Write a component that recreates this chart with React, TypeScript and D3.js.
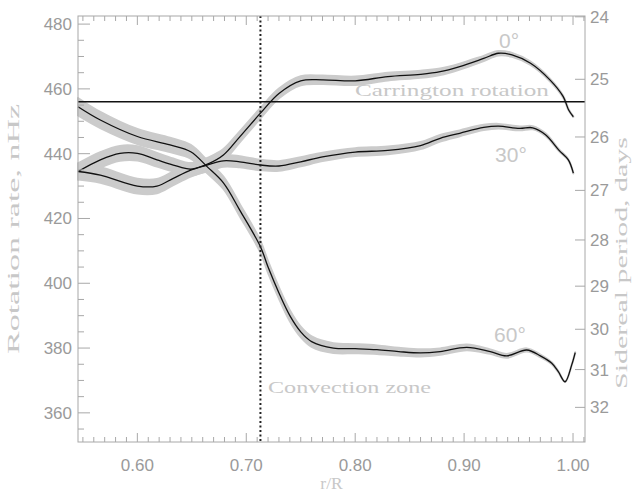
import React from 'react';
import * as d3 from 'd3';

// solar internal rotation vs fractional radius, three latitudes
const r0 = [0.5455, 0.566, 0.60, 0.618, 0.633, 0.649, 0.666, 0.679, 0.694, 0.713, 0.730, 0.75, 0.77, 0.80, 0.83, 0.86, 0.878, 0.896, 0.918, 0.9315, 0.944, 0.961, 0.979, 0.991, 0.996, 1.0003];
const omega0 = [434.5, 433.4, 430.0, 430.0, 432.4, 434.9, 437.0, 439.6, 445.2, 452.5, 458.6, 462.5, 462.8, 462.5, 463.8, 464.5, 465.3, 466.9, 469.4, 471.0, 470.5, 467.9, 462.7, 457.6, 453.5, 451.4];
const err0 = [2.5, 2.4, 2.3, 2.2, 2.1, 2.0, 1.9, 1.8, 1.7, 1.6, 1.5, 1.4, 1.3, 1.3, 1.2, 1.1, 1.0, 0.9, 0.8, 0.7, 0.6, 0.5, 0.4, 0.3, 0.2, 0.1];

const r30 = [0.5455, 0.566, 0.584, 0.60, 0.618, 0.633, 0.649, 0.664, 0.679, 0.694, 0.713, 0.730, 0.75, 0.77, 0.80, 0.83, 0.86, 0.878, 0.896, 0.918, 0.9315, 0.951, 0.963, 0.975, 0.987, 0.9957, 1.0003];
const omega30 = [434.5, 438.1, 440.1, 440.1, 438.1, 436.5, 435.2, 436.5, 437.8, 437.5, 436.5, 436.2, 437.5, 439.0, 440.5, 441.0, 442.5, 444.75, 446.3, 448.1, 448.5, 447.8, 448.0, 445.8, 441.1, 438.1, 434.0];
const err30 = [2.5, 2.4, 2.3, 2.2, 2.1, 2.0, 1.9, 1.9, 1.8, 1.7, 1.6, 1.5, 1.4, 1.3, 1.2, 1.2, 1.1, 1.0, 0.9, 0.8, 0.7, 0.6, 0.5, 0.4, 0.3, 0.2, 0.1];

const r60 = [0.5455, 0.566, 0.60, 0.63, 0.649, 0.664, 0.679, 0.694, 0.713, 0.72, 0.73, 0.74, 0.75, 0.76, 0.78, 0.80, 0.82, 0.84, 0.86, 0.878, 0.9025, 0.924, 0.939, 0.9575, 0.97, 0.9805, 0.9865, 0.9927, 0.9988, 1.002];
const omega60 = [454.5, 450.4, 445.3, 442.7, 440.6, 436.0, 431.0, 422.6, 411.3, 405.0, 397.0, 390.0, 385.0, 382.0, 380.0, 379.8, 379.5, 378.9, 378.5, 378.9, 380.2, 378.9, 377.6, 379.4, 377.6, 375.3, 372.7, 369.6, 374.8, 378.6];
const err60 = [2.7, 2.5, 2.3, 2.2, 2.1, 2.0, 1.9, 1.9, 1.8, 1.8, 1.7, 1.7, 1.6, 1.6, 1.5, 1.4, 1.3, 1.2, 1.1, 1.0, 0.9, 0.7, 0.6, 0.5, 0.4, 0.3, 0.2, 0.1, 0.1, 0.1];

const latLabels = ['0°', '30°', '60°'];
const nhzTicks = [360, 380, 400, 420, 440, 460, 480];
const dayTicks = [24, 25, 26, 27, 28, 29, 30, 31, 32];
const rTicks = [0.6, 0.7, 0.8, 0.9, 1.0];
const carrington = 456.0; // nHz
const convectionBase = 0.713;

const W = 635;
const H = 493;
const left = 78, right = 585, top = 16, bottom = 442;

const axisGray = '#a8a8a8';
const numGray = '#9a9a9a';
const titleGray = '#c8c8c8';
const bandGray = '#cbcbcb';

const App = () => {
  const x = d3.scaleLinear().domain([0.5455, 1.011]).range([left, right]);
  const y = d3.scaleLinear().domain([351, 482.5]).range([bottom, top]);
  const dayToY = (p: number) => y(1e9 / (p * 86400));

  const series = [
    { r: r0, v: omega0, e: err0 },
    { r: r30, v: omega30, e: err30 },
    { r: r60, v: omega60, e: err60 },
  ];

  const line = d3
    .line<[number, number]>()
    .x((d) => x(d[0]))
    .y((d) => y(d[1]))
    .curve(d3.curveCatmullRom.alpha(0.5));
  const band = d3
    .area<[number, number, number]>()
    .x((d) => x(d[0]))
    .y0((d) => y(d[1] - d[2]))
    .y1((d) => y(d[1] + d[2]))
    .curve(d3.curveCatmullRom.alpha(0.5));

  // minor ticks
  const xMinor = d3.range(55, 102).map((i) => i / 100).filter((v) => x(v) >= left && x(v) <= right);
  const yMinor = d3.range(355, 482, 5).filter((v) => v % 20 !== 0);

  const numFont = { fontFamily: 'Liberation Sans, sans-serif', fontSize: 17, fill: numGray };
  const titleFont = { fontFamily: 'Liberation Serif, serif', fontSize: 17.5, fill: titleGray };

  return (
    <svg width={W} height={H} style={{ position: 'absolute', left: 0, top: 0, background: '#fff' }}>
      <rect width={W} height={H} fill="#fff" />

      {/* error bands */}
      {series.map((s, i) => (
        <path
          key={'b' + i}
          d={band(s.r.map((r, j) => [r, s.v[j], s.e[j]] as [number, number, number])) || ''}
          fill={bandGray}
          stroke={bandGray}
          strokeWidth={2}
          strokeLinejoin="round"
        />
      ))}

      {/* Carrington rotation */}
      <line x1={left} x2={right} y1={y(carrington)} y2={y(carrington)} stroke="#111" strokeWidth={1.5} />

      {/* curves */}
      {series.map((s, i) => (
        <path
          key={'l' + i}
          d={line(s.r.map((r, j) => [r, s.v[j]] as [number, number])) || ''}
          fill="none"
          stroke="#111"
          strokeWidth={1.3}
        />
      ))}

      {/* base of convection zone */}
      <line
        x1={x(convectionBase)}
        x2={x(convectionBase)}
        y1={top}
        y2={bottom}
        stroke="#222"
        strokeWidth={2}
        strokeDasharray="2,2.5"
      />

      {/* frame */}
      <rect x={left} y={top} width={right - left} height={bottom - top} fill="none" stroke={axisGray} strokeWidth={1} />

      {/* x ticks bottom and top */}
      {xMinor.map((v) => {
        const major = rTicks.some((t) => Math.abs(t - v) < 1e-6);
        const len = major ? 9 : 5;
        return (
          <g key={'xt' + v}>
            <line x1={x(v)} x2={x(v)} y1={bottom} y2={bottom - len} stroke={axisGray} />
            <line x1={x(v)} x2={x(v)} y1={top} y2={top + len} stroke={axisGray} />
          </g>
        );
      })}
      {rTicks.map((v) => (
        <text key={'xl' + v} x={x(v)} y={471} textAnchor="middle" {...numFont}>
          {v.toFixed(2)}
        </text>
      ))}
      <text x={(left + right) / 2} y={489} textAnchor="middle" {...titleFont}>
        r/R
      </text>

      {/* left axis (nHz) */}
      {nhzTicks.map((v) => (
        <g key={'yl' + v}>
          <line x1={left} x2={left + 12} y1={y(v)} y2={y(v)} stroke={axisGray} />
          <text x={72} y={y(v) + 6} textAnchor="end" {...numFont}>
            {v}
          </text>
        </g>
      ))}
      {yMinor.map((v) => (
        <line key={'ym' + v} x1={left} x2={left + 6} y1={y(v)} y2={y(v)} stroke={axisGray} />
      ))}
      <text
        transform={`translate(19, ${(top + bottom) / 2}) rotate(-90)`}
        textAnchor="middle"
        textLength={250}
        lengthAdjust="spacingAndGlyphs"
        {...titleFont}
      >
        Rotation rate, nHz
      </text>

      {/* right axis (sidereal period) */}
      {dayTicks.map((p) => (
        <g key={'yr' + p}>
          <line x1={right - 10} x2={right} y1={dayToY(p)} y2={dayToY(p)} stroke={axisGray} />
          <text x={590} y={dayToY(p) + 6} textAnchor="start" {...numFont}>
            {p}
          </text>
        </g>
      ))}
      <text
        transform={`translate(627, 263) rotate(-90)`}
        textAnchor="middle"
        textLength={252}
        lengthAdjust="spacingAndGlyphs"
        {...titleFont}
      >
        Sidereal period, days
      </text>

      {/* annotations */}
      <text x={355} y={96} textLength={194} lengthAdjust="spacingAndGlyphs" {...titleFont}>
        Carrington rotation
      </text>
      <text x={268} y={393} textLength={163} lengthAdjust="spacingAndGlyphs" {...titleFont}>
        Convection zone
      </text>
      <text x={509} y={48} textAnchor="middle" fontFamily="Liberation Sans, sans-serif" fontSize={21} fill={titleGray}>
        {latLabels[0]}
      </text>
      <text x={511} y={162} textAnchor="middle" fontFamily="Liberation Sans, sans-serif" fontSize={21} fill={titleGray}>
        {latLabels[1]}
      </text>
      <text x={510} y={342} textAnchor="middle" fontFamily="Liberation Sans, sans-serif" fontSize={21} fill={titleGray}>
        {latLabels[2]}
      </text>
    </svg>
  );
};

export default App;
